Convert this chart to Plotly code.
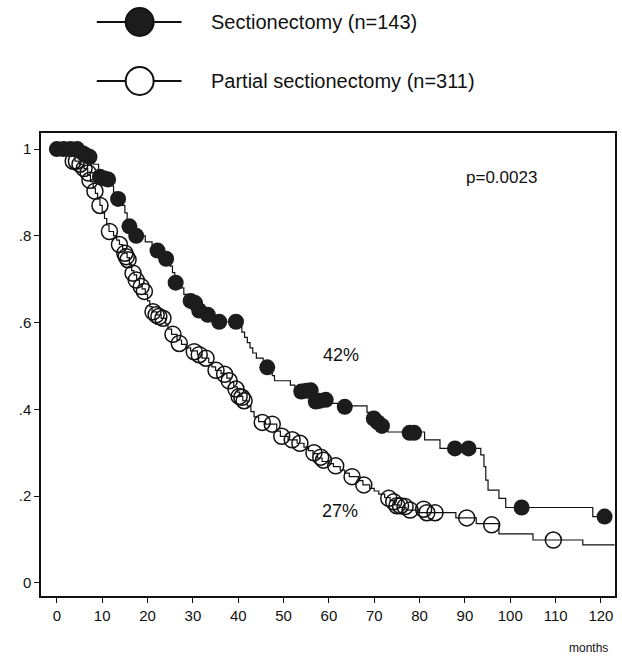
import plotly.graph_objects as go

# ---------------- data ----------------
sect_t = [0, 5, 6.5, 8, 9.2, 11.8, 12.5, 13.2, 14.5, 15, 15.5, 16, 17, 17.3, 19.5, 21, 22, 23.5, 24,
          25, 25.5, 26, 26.2, 27, 28, 29, 31, 31.4, 33, 34.5, 35.5, 40.2, 40.8, 41.4, 42, 42.6, 43.2,
          44, 45.5, 46.2, 47.5, 48, 51.5, 52.5, 56.8, 60.5, 62, 68.4, 69.5, 70.5, 71.5, 73, 81.1,
          84.5, 93.5, 94.2, 94.6, 95.1, 97.5, 99, 118.2, 121]
sect_s = [1.0, 0.993, 0.985, 0.965, 0.936, 0.915, 0.90, 0.885, 0.87, 0.853, 0.837, 0.822, 0.808,
          0.80, 0.786, 0.775, 0.766, 0.756, 0.747, 0.73, 0.715, 0.702, 0.692, 0.68, 0.665, 0.65,
          0.637, 0.628, 0.618, 0.61, 0.602, 0.59, 0.578, 0.566, 0.554, 0.542, 0.53, 0.518, 0.507,
          0.497, 0.478, 0.466, 0.456, 0.444, 0.42, 0.414, 0.408, 0.393, 0.379, 0.37, 0.362, 0.348,
          0.33, 0.31, 0.295, 0.268, 0.237, 0.214, 0.195, 0.174, 0.153, 0.153]

sect_cens_t = [0, 1.5, 3, 4.5, 5.8, 6.5, 7.2, 9.5, 10.5, 11.3, 13.5, 16.0, 17.5, 22.2, 24.1, 26.2,
               29.5, 30.5, 31.4, 33.3, 35.8, 39.5, 46.4, 53.9, 55.0, 56.0, 57.1, 58.0, 59.3, 63.5,
               69.9, 70.8, 71.7, 77.8, 78.8, 87.8, 90.8, 102.5, 120.8]
sect_cens_s = [1.0, 1.0, 1.0, 1.0, 0.99, 0.985, 0.982, 0.936, 0.932, 0.93, 0.885, 0.822, 0.80,
               0.766, 0.747, 0.692, 0.65, 0.645, 0.628, 0.618, 0.602, 0.602, 0.497, 0.441, 0.443,
               0.444, 0.418, 0.42, 0.422, 0.406, 0.379, 0.37, 0.362, 0.346, 0.346, 0.31, 0.31,
               0.174, 0.153]

part_t = [0, 2, 3, 4, 5, 6, 6.8, 7.4, 8, 8.5, 9, 9.5, 10, 10.5, 11, 11.5, 12.5, 13.2, 13.8, 14.5,
          15, 15.5, 16, 16.5, 17, 17.6, 18.2, 18.8, 19.5, 20, 20.5, 21, 22, 23, 24, 24.5, 25.3,
          26.5, 27.5, 28.5, 29.5, 31, 32, 33.5, 34.2, 35, 36.2, 37.5, 38.2, 39, 39.8, 40.3, 41,
          42, 42.8, 43.5, 44.5, 46, 48.5, 49.3, 51, 53, 54.5, 55.5, 56.5, 57.5, 58.5, 60, 61,
          62.5, 63.5, 64.5, 66.5, 67.5, 69, 70, 71, 72.3, 73.5, 74.5, 75.5, 77, 80, 88, 92.5,
          97.5, 105, 116, 123]
part_s = [1.0, 0.99, 0.983, 0.972, 0.965, 0.955, 0.94, 0.925, 0.91, 0.898, 0.885, 0.87, 0.855,
          0.84, 0.825, 0.81, 0.80, 0.79, 0.78, 0.77, 0.76, 0.75, 0.735, 0.72, 0.71, 0.698, 0.688,
          0.678, 0.665, 0.65, 0.637, 0.625, 0.618, 0.61, 0.597, 0.585, 0.573, 0.56, 0.55, 0.542,
          0.535, 0.526, 0.518, 0.508, 0.498, 0.49, 0.483, 0.472, 0.462, 0.452, 0.44, 0.43, 0.42,
          0.408, 0.395, 0.383, 0.372, 0.366, 0.35, 0.338, 0.33, 0.322, 0.313, 0.305, 0.298,
          0.288, 0.28, 0.275, 0.268, 0.26, 0.253, 0.245, 0.236, 0.226, 0.218, 0.212, 0.205,
          0.197, 0.19, 0.18, 0.174, 0.168, 0.162, 0.15, 0.137, 0.113, 0.099, 0.088, 0.088]

part_cens_t = [3.6, 4.3, 5.1, 6.0, 6.9, 7.3, 8.4, 9.5, 11.6, 13.8, 15.0, 15.3, 15.7, 16.8, 17.5,
               18.6, 19.3, 21.2, 21.9, 22.5, 23.4, 25.6, 27.0, 30.3, 31.4, 32.9, 35.1, 37.0, 38.0,
               39.5, 40.2, 40.8, 41.3, 45.3, 47.5, 49.6, 51.9, 53.6, 56.7, 58.2, 58.8, 61.5, 65.1,
               67.7, 73.2, 74.3, 75.0, 75.8, 76.8, 77.9, 80.9, 81.6, 83.4, 90.4, 95.9, 109.5]
part_cens_s = [0.972, 0.972, 0.965, 0.955, 0.945, 0.928, 0.903, 0.87, 0.81, 0.78, 0.76, 0.752,
               0.745, 0.714, 0.698, 0.683, 0.672, 0.625, 0.618, 0.614, 0.61, 0.573, 0.552, 0.533,
               0.526, 0.518, 0.49, 0.481, 0.466, 0.447, 0.43, 0.428, 0.42, 0.37, 0.366, 0.338,
               0.33, 0.322, 0.3, 0.29, 0.283, 0.27, 0.245, 0.226, 0.195, 0.187, 0.178, 0.178,
               0.176, 0.168, 0.17, 0.162, 0.162, 0.15, 0.134, 0.099]

x_ticks = [0, 10, 20, 30, 40, 50, 60, 70, 80, 90, 100, 110, 120]
y_ticks = [0, 0.2, 0.4, 0.6, 0.8, 1.0]
y_tick_labels = ["0", ".2", ".4", ".6", ".8", "1"]
legend_labels = ["Sectionectomy (n=143)", "Partial sectionectomy (n=311)"]

# ---------------- layout geometry ----------------
W, H = 622, 657
L, R, T, B = 41, 5, 133, 61
PW, PH = W - L - R, H - T - B
FONT = "Liberation Sans, Arial, sans-serif"


def px_x(p):
    return (p - L) / PW


def px_y(p):
    return (H - B - p) / PH


fig = go.Figure()

fig.add_trace(go.Scatter(x=sect_t, y=sect_s, mode="lines", line_shape="hv",
                         line=dict(color="#111", width=1.2), showlegend=False, hoverinfo="skip"))
fig.add_trace(go.Scatter(x=part_t, y=part_s, mode="lines", line_shape="hv",
                         line=dict(color="#111", width=1.2), showlegend=False, hoverinfo="skip"))
fig.add_trace(go.Scatter(x=part_cens_t, y=part_cens_s, mode="markers",
                         marker=dict(symbol="circle-open", size=16, color="#111",
                                     line=dict(width=1.5, color="#111")),
                         showlegend=False))
fig.add_trace(go.Scatter(x=sect_cens_t, y=sect_cens_s, mode="markers",
                         marker=dict(symbol="circle", size=16, color="#1c1c1c",
                                     line=dict(width=0)),
                         showlegend=False))

shapes = []
annotations = []
# legend drawn in the top margin
leg_rows = [(22, True), (81, False)]
for (py, filled), label in zip(leg_rows, legend_labels):
    shapes.append(dict(type="line", xref="paper", yref="paper",
                       x0=px_x(97), x1=px_x(182), y0=px_y(py), y1=px_y(py),
                       line=dict(color="#111", width=2)))
    shapes.append(dict(type="circle", xref="paper", yref="paper",
                       xsizemode="pixel", ysizemode="pixel",
                       xanchor=px_x(140), yanchor=px_y(py),
                       x0=-14, x1=14, y0=-14, y1=14,
                       fillcolor="#1c1c1c" if filled else "white",
                       line=dict(color="#111", width=2)))
    annotations.append(dict(x=px_x(210), y=px_y(py), xref="paper", yref="paper",
                            text=label, showarrow=False, xanchor="left", yanchor="middle",
                            font=dict(family=FONT, size=20, color="#111")))

annotations += [
    dict(x=px_x(465), y=px_y(177), xref="paper", yref="paper", text="p=0.0023",
         showarrow=False, xanchor="left", yanchor="middle",
         font=dict(family=FONT, size=17, color="#111")),
    dict(x=px_x(322), y=px_y(355), xref="paper", yref="paper", text="42%",
         showarrow=False, xanchor="left", yanchor="middle",
         font=dict(family=FONT, size=18, color="#111")),
    dict(x=px_x(321), y=px_y(511), xref="paper", yref="paper", text="27%",
         showarrow=False, xanchor="left", yanchor="middle",
         font=dict(family=FONT, size=18, color="#111")),
    dict(x=px_x(612), y=px_y(648), xref="paper", yref="paper", text="months",
         showarrow=False, xanchor="right", yanchor="middle",
         font=dict(family=FONT, size=12, color="#111")),
]

fig.update_layout(
    width=W, height=H,
    margin=dict(l=L, r=R, t=T, b=B, pad=0),
    paper_bgcolor="white", plot_bgcolor="white",
    shapes=shapes, annotations=annotations,
    showlegend=False,
    xaxis=dict(range=[-3.5, 123.1], tickvals=x_ticks, ticks="outside", ticklen=5,
               tickwidth=1.2, tickcolor="#111", showgrid=False, zeroline=False,
               showline=True, linecolor="#111", linewidth=1.5, mirror=True,
               tickfont=dict(family=FONT, size=15, color="#111")),
    yaxis=dict(range=[-0.03, 1.037], tickvals=y_ticks, ticktext=y_tick_labels,
               ticks="outside", ticklen=5, tickwidth=1.2, tickcolor="#111",
               showgrid=False, zeroline=False, showline=True, linecolor="#111",
               linewidth=1.5, mirror=True,
               tickfont=dict(family=FONT, size=15, color="#111")),
)

fig.write_html("out.html")
